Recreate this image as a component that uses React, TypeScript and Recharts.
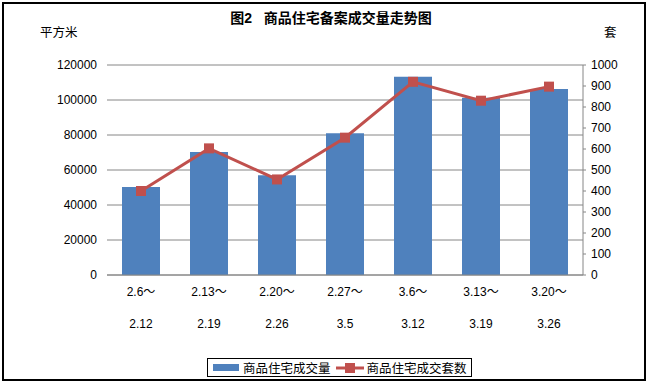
import React from 'react';
import { ComposedChart, Bar, Line, XAxis, YAxis, CartesianGrid } from 'recharts';

/* 商品住宅备案成交量走势图 — 柱(面积, 左轴) + 折线(套数, 右轴) */

const periodStart = ['2.6～', '2.13～', '2.20～', '2.27～', '3.6～', '3.13～', '3.20～'];
const periodEnd = ['2.12', '2.19', '2.26', '3.5', '3.12', '3.19', '3.26'];
const areaValues = [50300, 70300, 57000, 81000, 113300, 101300, 106300];
const unitValues = [400, 603, 455, 654, 920, 830, 897];
const leftTicks = [0, 20000, 40000, 60000, 80000, 100000, 120000];
const rightTicks = [0, 100, 200, 300, 400, 500, 600, 700, 800, 900, 1000];

const BAR = '#4F81BD';
const LINE = '#C0504D';
const GRID = '#868686';
const FONT = '"Liberation Sans", "Noto Sans CJK SC", sans-serif';

const rows = periodStart.map((s, i) => ({ key: String(i), area: areaValues[i], units: unitValues[i] }));

const XTick = (p: any) => {
  const i = Number(p.payload?.value);
  return (
    <g>
      <text x={p.x} y={p.y + 9} textAnchor="middle" dominantBaseline="central" fontSize={12} fill="#000" fontFamily={FONT}>
        {periodStart[i]}
      </text>
      <text x={p.x} y={p.y + 41} textAnchor="middle" dominantBaseline="central" fontSize={12} fill="#000" fontFamily={FONT}>
        {periodEnd[i]}
      </text>
    </g>
  );
};

const SquareDot = (p: any) => <rect key={p.index} x={p.cx - 5} y={p.cy - 5} width={10} height={10} fill={LINE} />;

export default function App() {
  const tickStyle = { fontSize: 12, fill: '#000', fontFamily: FONT };
  return (
    <div style={{ position: 'absolute', left: 0, top: 0, width: 650, height: 384, background: '#fff', fontFamily: FONT }}>
      <div style={{ position: 'absolute', left: 2, top: 2, width: 644, height: 379, border: '2px solid #000', boxSizing: 'border-box' }} />
      <div style={{ position: 'absolute', left: 0, width: 662, top: 9, textAlign: 'center', fontSize: 14, fontWeight: 'bold', whiteSpace: 'pre', lineHeight: '18px' }}>
        {'图2   商品住宅备案成交量走势图'}
      </div>
      <div style={{ position: 'absolute', left: 40, top: 24, fontSize: 12.5, lineHeight: '18px' }}>平方米</div>
      <div style={{ position: 'absolute', left: 604, top: 24, fontSize: 12.5, lineHeight: '18px' }}>套</div>
      <ComposedChart
        width={650}
        height={384}
        data={rows}
        margin={{ top: 65, right: 0, left: 0, bottom: 49 }}
        style={{ position: 'absolute', left: 0, top: 0 }}
      >
        <CartesianGrid yAxisId="left" vertical={false} stroke={GRID} />
        <XAxis dataKey="key" height={60} axisLine={{ stroke: GRID }} tickLine={false} tick={<XTick />} interval={0} />
        <YAxis
          yAxisId="left"
          width={107}
          domain={[0, 120000]}
          ticks={leftTicks}
          axisLine={false}
          tickLine={false}
          tickMargin={4}
          tick={tickStyle}
        />
        <YAxis
          yAxisId="right"
          orientation="right"
          width={67}
          domain={[0, 1000]}
          ticks={rightTicks}
          axisLine={{ stroke: GRID }}
          tickLine={{ stroke: GRID }}
          tickSize={3}
          tickMargin={5}
          tick={tickStyle}
        />
        <Bar yAxisId="left" dataKey="area" fill={BAR} barSize={38} isAnimationActive={false} />
        <Line
          yAxisId="right"
          dataKey="units"
          stroke={LINE}
          strokeWidth={3}
          dot={<SquareDot />}
          activeDot={false}
          isAnimationActive={false}
        />
      </ComposedChart>
      <div
        style={{
          position: 'absolute',
          left: 207,
          top: 358,
          width: 265,
          height: 19,
          border: '1px solid #000',
          boxSizing: 'border-box',
          display: 'flex',
          alignItems: 'center',
          fontSize: 12.5,
          paddingLeft: 5,
        }}
      >
        <span style={{ display: 'inline-block', width: 26, height: 7, background: BAR, marginRight: 4 }} />
        <span>商品住宅成交量</span>
        <svg width={28} height={10} style={{ margin: '0 3px 0 5px' }}>
          <line x1={0} y1={5} x2={28} y2={5} stroke={LINE} strokeWidth={3} />
          <rect x={9} y={0} width={10} height={10} fill={LINE} />
        </svg>
        <span>商品住宅成交套数</span>
      </div>
    </div>
  );
}
